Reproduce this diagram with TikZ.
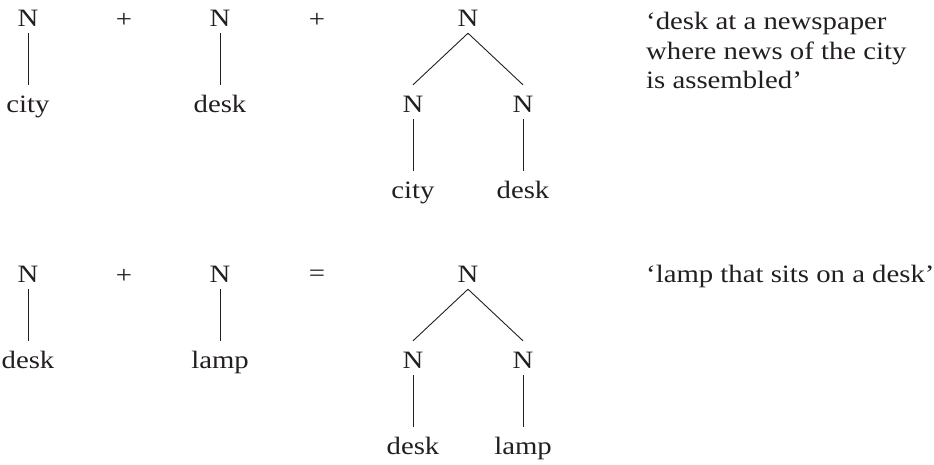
\documentclass[tikz,border=0pt]{standalone}
\usepackage{fontspec}
\setmainfont{Liberation Serif}[FakeStretch=1.15]
\definecolor{ink}{HTML}{231F20}
\begin{document}
\begin{tikzpicture}[x=1pt,y=-1pt,
  every node/.style={font=\fontsize{25}{26.5}\selectfont, text=ink, inner sep=0pt},
  cat/.style={anchor=base, text height=16pt, text depth=0pt},
  leaf/.style={anchor=base, text height=17pt, text depth=5pt},
  op/.style={anchor=center},
  gloss/.style={anchor=north west, align=left},
  edge/.style={draw=ink, line width=0.9pt}]
\useasboundingbox (0,0) rectangle (934,464);
% ---- top row ----
\node[cat] (a1) at (28,26) {N};
\node[leaf] (a1l) at (28,112) {city};
\node[op] (p1) at (124,20) {+};
\node[cat] (a2) at (220,26) {N};
\node[leaf] (a2l) at (220,112) {desk};
\node[op] (p2) at (317,20) {+};
\node[cat] (ar) at (468,26) {N};
\node[cat] (ac1) at (413,112) {N};
\node[cat] (ac2) at (523,112) {N};
\node[leaf] (al1) at (413,198) {city};
\node[leaf] (al2) at (523,198) {desk};
\node[gloss] (g1) at (646,12) {‘desk at a newspaper\\[3pt]where news of the city\\[3pt]is assembled’};
\draw[edge] ([yshift=-7pt]a1.south) -- ([yshift=10pt]a1l.north);
\draw[edge] ([yshift=-7pt]a2.south) -- ([yshift=10pt]a2l.north);
\draw[edge] ([yshift=-7pt]ar.south) -- ([yshift=11pt]ac1.north);
\draw[edge] ([yshift=-7pt]ar.south) -- ([yshift=11pt]ac2.north);
\draw[edge] ([yshift=-7pt]ac1.south) -- ([yshift=10pt]al1.north);
\draw[edge] ([yshift=-7pt]ac2.south) -- ([yshift=10pt]al2.north);
% ---- bottom row ----
\node[cat] (b1) at (28,282) {N};
\node[leaf] (b1l) at (28,368) {desk};
\node[op] (p3) at (124,276) {+};
\node[cat] (b2) at (220,282) {N};
\node[leaf] (b2l) at (220,368) {lamp};
\node[op] (eq) at (317,276) {=};
\node[cat] (br) at (468,282) {N};
\node[cat] (bc1) at (413,368) {N};
\node[cat] (bc2) at (523,368) {N};
\node[leaf] (bl1) at (413,454) {desk};
\node[leaf] (bl2) at (523,454) {lamp};
\node[anchor=base west] (g2) at (646,282) {‘lamp that sits on a desk’};
\draw[edge] ([yshift=-7pt]b1.south) -- ([yshift=10pt]b1l.north);
\draw[edge] ([yshift=-7pt]b2.south) -- ([yshift=10pt]b2l.north);
\draw[edge] ([yshift=-7pt]br.south) -- ([yshift=11pt]bc1.north);
\draw[edge] ([yshift=-7pt]br.south) -- ([yshift=11pt]bc2.north);
\draw[edge] ([yshift=-7pt]bc1.south) -- ([yshift=10pt]bl1.north);
\draw[edge] ([yshift=-7pt]bc2.south) -- ([yshift=10pt]bl2.north);
\end{tikzpicture}
\end{document}
